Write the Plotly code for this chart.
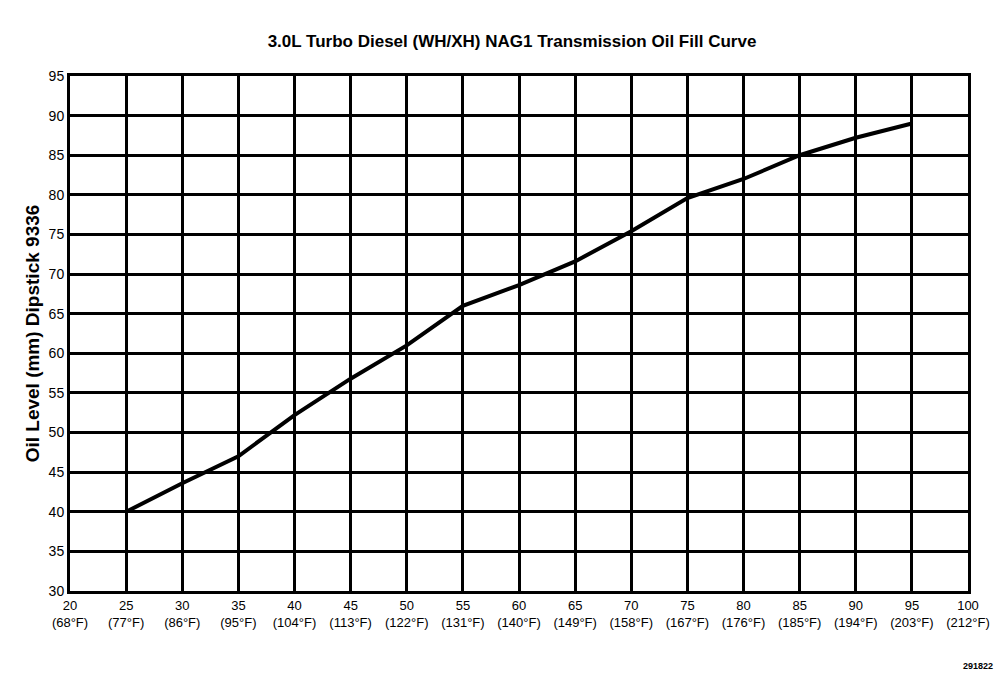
import plotly.graph_objects as go

# temperature in deg C vs oil level (mm)
temp_c = [25, 30, 35, 40, 45, 50, 55, 60, 65, 70, 75, 80, 85, 90, 95]
oil_mm = [40, 43.6, 47, 52.2, 56.8, 61, 66, 68.6, 71.6, 75.4, 79.6, 82, 85, 87.2, 89]

x_ticks = list(range(20, 101, 5))
x_f = [68, 77, 86, 95, 104, 113, 122, 131, 140, 149, 158, 167, 176, 185, 194, 203, 212]
x_text = [f"{c}<br>({f}°F)" for c, f in zip(x_ticks, x_f)]
y_ticks = list(range(30, 96, 5))

font = "Liberation Sans, Arial, sans-serif"

fig = go.Figure(go.Scatter(x=temp_c, y=oil_mm, mode="lines",
                           line=dict(color="black", width=4), showlegend=False))

fig.update_layout(
    width=1008, height=678,
    margin=dict(l=62, r=48, t=68, b=95),
    paper_bgcolor="white", plot_bgcolor="white",
    font=dict(family=font, color="black", size=14),
    title=dict(text="<b>3.0L Turbo Diesel (WH/XH) NAG1 Transmission Oil Fill Curve</b>",
               x=0.5, xanchor="center", y=0.96, font=dict(size=17)),
)
fig.update_xaxes(range=[20, 100], tickvals=x_ticks, ticktext=x_text,
                 showgrid=True, gridcolor="black", gridwidth=3,
                 showline=True, linecolor="black", linewidth=3, mirror=True,
                 ticks="", zeroline=False, tickfont=dict(size=13))
fig.update_yaxes(range=[30, 95], tickvals=y_ticks,
                 showgrid=True, gridcolor="black", gridwidth=3,
                 showline=True, linecolor="black", linewidth=3, mirror=True,
                 ticks="", zeroline=False, tickfont=dict(size=14),
                 title=dict(text="<b>Oil Level (mm) Dipstick 9336</b>", font=dict(size=19), standoff=4))

fig.add_annotation(text="<b>291822</b>", xref="paper", yref="paper", x=1.03, y=-0.16,
                   xanchor="right", showarrow=False, font=dict(size=9))

fig.write_html("out.html")
